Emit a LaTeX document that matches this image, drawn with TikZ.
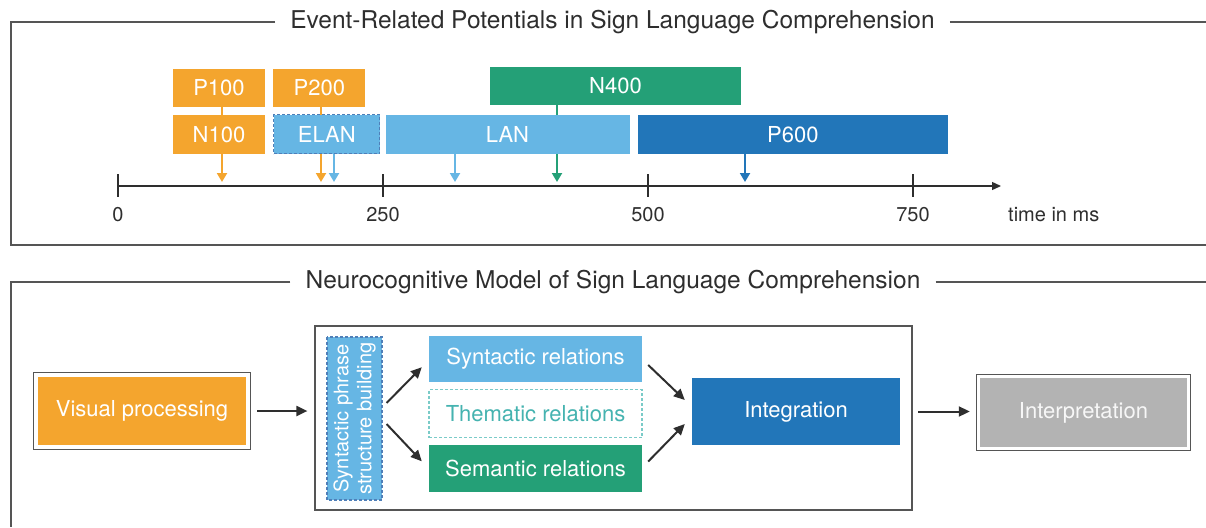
\documentclass[tikz,border=0pt]{standalone}
\usepackage{fontspec}
\setmainfont{TeX Gyre Heros}
\usepackage{tikz}
\usetikzlibrary{positioning,arrows.meta}
\definecolor{erporange}{HTML}{F4A52E}
\definecolor{erpgreen}{HTML}{24A077}
\definecolor{erplight}{HTML}{66B6E4}
\definecolor{erpdark}{HTML}{2276B9}
\definecolor{erpgray}{HTML}{B3B3B3}
\definecolor{dashblue}{HTML}{4F7FB8}
\definecolor{tealtext}{HTML}{45B3B0}
\definecolor{tealdash}{HTML}{7ACBC8}
\definecolor{framegray}{HTML}{555555}
\definecolor{inkgray}{HTML}{2E2E2E}
\pgfdeclarelayer{background}
\pgfsetlayers{background,main}
\tikzset{erp node/.style={rectangle,fill=#1,text=white,inner sep=0pt,minimum height=38pt,
            font=\fontsize{22}{26}\selectfont},
         model box/.style={rectangle,fill=#1,text=white,inner sep=0pt,
            font=\fontsize{22}{26}\selectfont},
         dash box/.style={draw=#1,dash pattern=on 3pt off 2pt,line width=1.1pt},
         erp arrow/.style={draw=#1,line width=2pt,-{Triangle[width=10pt,length=9pt]}},
         flow arrow/.style={draw=inkgray,line width=2pt,-{Triangle[width=10pt,length=11pt]}},
         frame line/.style={draw=framegray,line width=1.2pt},
         panel title/.style={text=inkgray,inner xsep=15pt,font=\fontsize{24.5}{28}\selectfont},
         axis label/.style={text=inkgray,inner sep=0pt,font=\fontsize{20}{24}\selectfont},
            }
\begin{document}
\begin{tikzpicture}[x=1pt,y=-1pt]
    \useasboundingbox (0,0) rectangle (1206,527);

    % ERP panel
    \node[panel title] (title1) at (612.5,22) {Event-Related Potentials in Sign Language Comprehension};
    \draw[frame line] (title1.west) -- (11,22) -- (11,245) -- (1206,245);
    \draw[frame line] (title1.east) -- (1206,22);

    \node[erp node=erporange, minimum width=92pt] (p100) at (219,87.5) {P100};
    \node[erp node=erporange, minimum width=92pt] (p200) [right = 8pt of p100] {P200};
    \node[erp node=erporange, minimum width=92pt, minimum height=39pt] (n100) [below = 8pt of p100] {N100};
    \node[erp node=erplight, minimum width=106pt, minimum height=39pt, dash box=dashblue] (elan) [right = 8pt of n100] {ELAN};
    \node[erp node=erplight, minimum width=244pt, minimum height=39pt] (lan) [right = 5pt of elan] {LAN};
    \node[erp node=erpdark, minimum width=310pt, minimum height=39pt] (p600) [right = 8pt of lan] {P600};
    \node[erp node=erpgreen, minimum width=251pt] (n400) at (615.5,85.5) {N400};

    % peak latencies on the time axis
    \coordinate (tn100) at (222,182);
    \coordinate (tp200) at (321,182);
    \coordinate (telan) at (334,182);
    \coordinate (tlan) at (455,182);
    \coordinate (tn400) at (557,182);
    \coordinate (tp600) at (745,182);

    \begin{pgfonlayer}{background}
    \draw[erp arrow=erporange] (p100.south -| tn100) -- (tn100);
    \draw[erp arrow=erporange] (p200.south -| tp200) -- (tp200);
    \draw[erp arrow=erplight] (elan.south -| telan) -- (telan);
    \draw[erp arrow=erplight] (lan.south -| tlan) -- (tlan);
    \draw[erp arrow=erpgreen] (n400.south -| tn400) -- (tn400);
    \draw[erp arrow=erpdark] (p600.south -| tp600) -- (tp600);
    \end{pgfonlayer}

    \coordinate (origin) at (118,186);
    \coordinate (axisend) at (1001,186);
    \draw[draw=inkgray, line width=1.3pt, -{Triangle[width=8pt,length=9pt]}] (origin) -- (axisend);
    \foreach \t in {0,250,500,750} {
        \draw[draw=inkgray, line width=1.3pt] ({118+1.06*\t},174) -- ({118+1.06*\t},197);
        \node[axis label] (lab\t) at ({118+1.06*\t},215) {\t};
    }
    \node[axis label, anchor=west] (unit) at (1008,215) {time in ms};

    % model panel
    \node[panel title] (title2) at (613,282) {Neurocognitive Model of Sign Language Comprehension};
    \draw[frame line] (title2.west) -- (11,282) -- (11,527);
    \draw[frame line] (title2.east) -- (1206,282);

    \node[model box=erporange, minimum width=208pt, minimum height=68pt] (visual) at (142,411) {Visual processing};
    \draw[frame line] ([shift={(-4,-4)}]visual.north west) rectangle ([shift={(4,4)}]visual.south east);

    \node[frame line, minimum width=597pt, minimum height=184pt, inner sep=0pt] (midbox) at (613.5,418) {};

    \node[model box=erplight, dash box=dashblue, rotate=90, align=center, minimum width=163pt, minimum height=55pt,
          font=\fontsize{20}{23}\selectfont] (phrase) at (354.5,418.5) {Syntactic phrase\\structure building};
    \node[model box=erplight, minimum width=213pt, minimum height=46pt] (synrel) at (535.5,359) {Syntactic relations};
    \node[model box=white, text=tealtext, dash box=tealdash, minimum width=213pt, minimum height=48pt] (thematic) [below = 7pt of synrel] {Thematic relations};
    \node[model box=erpgreen, minimum width=213pt, minimum height=47pt] (semrel) [below = 6pt of thematic] {Semantic relations};
    \node[model box=erpdark, minimum width=208pt, minimum height=67pt] (integ) at (796,411.5) {Integration};

    \node[model box=erpgray, text=white!94!gray, minimum width=207pt, minimum height=69pt] (interp) at (1083.5,412.5) {Interpretation};
    \draw[frame line] ([shift={(-3,-3)}]interp.north west) rectangle ([shift={(3,3)}]interp.south east);

    \draw[flow arrow, shorten <=11pt, shorten >=7pt] (visual.east) -- (visual.east -| midbox.west);
    \draw[flow arrow] ([shift={(4,-15.5)}]phrase.south) -- ([shift={(-7,-15)}]synrel.south west);
    \draw[flow arrow] ([shift={(4,5.5)}]phrase.south) -- ([shift={(-7,17)}]semrel.north west);
    \draw[flow arrow] ([shift={(6,6)}]synrel.east) -- ([shift={(-7,-11.5)}]integ.west);
    \draw[flow arrow] ([shift={(6,-6.5)}]semrel.east) -- ([shift={(-7,12.5)}]integ.west);
    \draw[flow arrow, shorten <=18pt, shorten >=10pt] (integ.east) -- (integ.east -| interp.west);
\end{tikzpicture}
\end{document}
